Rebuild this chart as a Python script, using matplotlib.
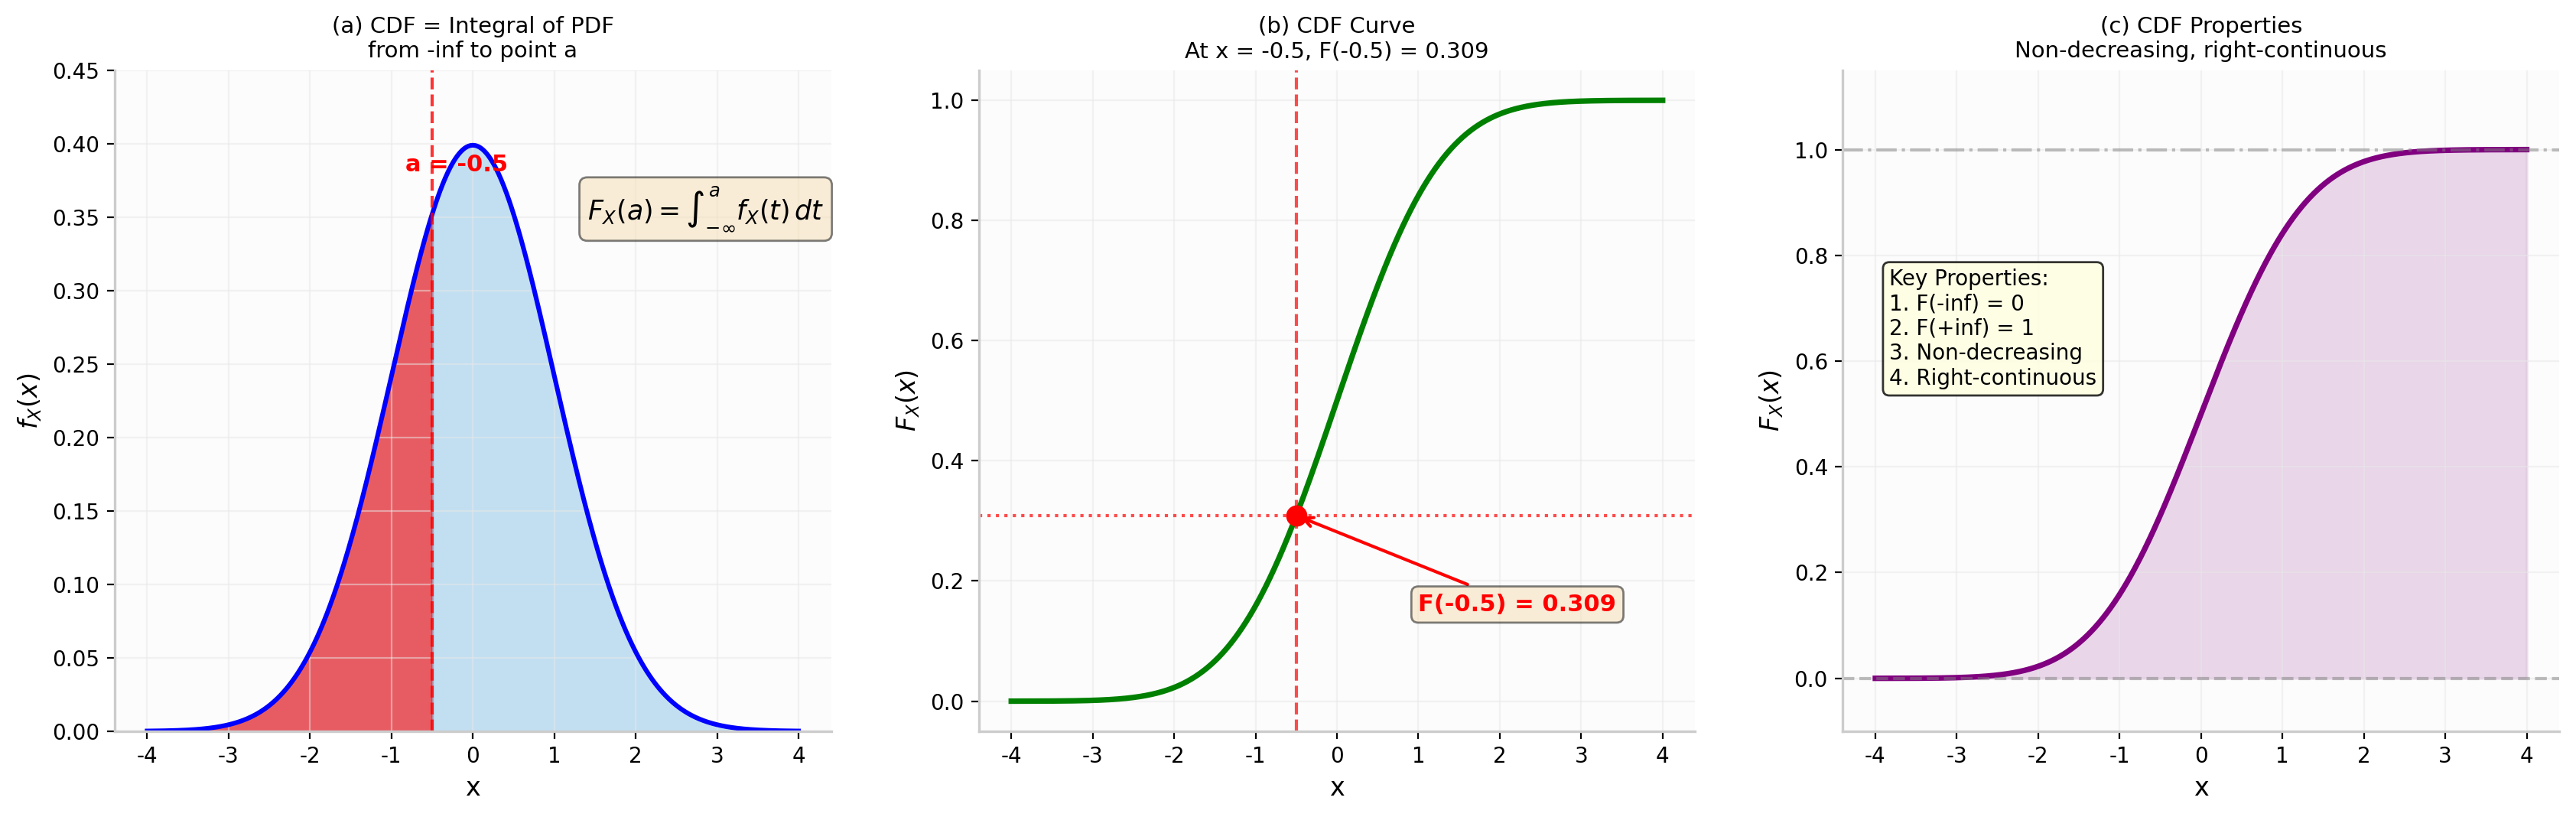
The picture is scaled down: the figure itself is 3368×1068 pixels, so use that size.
import numpy as np
import matplotlib.pyplot as plt
from math import erf

# standard normal, evaluated at point a
mu = 0.0
sigma = 1.0
x_lo, x_hi = -4, 4
a = -0.5
F_a = 0.309
xticks = [-4, -3, -2, -1, 0, 1, 2, 3, 4]
xtick_labels = ["-4", "-3", "-2", "-1", "0", "1", "2", "3", "4"]
pdf_yticks = [0.00, 0.05, 0.10, 0.15, 0.20, 0.25, 0.30, 0.35, 0.40, 0.45]
props = ["Key Properties:", "1. F(-inf) = 0", "2. F(+inf) = 1",
         "3. Non-decreasing", "4. Right-continuous"]

x = np.linspace(x_lo, x_hi, 1000)
pdf = np.exp(-0.5 * ((x - mu) / sigma) ** 2) / (sigma * np.sqrt(2 * np.pi))
cdf = np.array([0.5 * (1 + erf((v - mu) / (sigma * np.sqrt(2)))) for v in x])

plt.rcParams["axes.unicode_minus"] = False
plt.rcParams["font.size"] = 10

fig, axes = plt.subplots(1, 3, figsize=(16.84, 5.34), dpi=200)
fig.subplots_adjust(left=0.0445, right=0.9935, bottom=0.105, top=0.914, wspace=0.206)

for ax in axes:
    ax.set_facecolor("#fcfcfc")
    ax.grid(True, color="#e8e8e8", alpha=0.5, lw=0.8)
    for s in ["top", "right"]:
        ax.spines[s].set_visible(False)
    for s in ["left", "bottom"]:
        ax.spines[s].set_color("#cccccc")
        ax.spines[s].set_linewidth(1.2)
    ax.set_xticks(xticks)
    ax.set_xticklabels(xtick_labels)
    ax.set_xlabel("x", fontsize=12)

# (a) PDF with shaded area up to a
ax = axes[0]
left = x <= a
ax.fill_between(x[left], pdf[left], color="#e0262e", alpha=0.75)
ax.fill_between(x[~left], pdf[~left], color="#87c3e8", alpha=0.5)
ax.plot(x, pdf, color="blue", lw=2.2)
ax.axvline(a, color="red", ls="--", lw=1.5, alpha=0.8)
ax.text(a + 0.3, 0.378, f"a = {a}", color="red", fontsize=11,
        fontweight="bold", ha="center", va="bottom")
ax.text(0.99, 0.79, r"$F_X(a) = \int_{-\infty}^{a} f_X(t)\,dt$", transform=ax.transAxes,
        fontsize=12.5, ha="right", va="center",
        bbox=dict(boxstyle="round", facecolor="wheat", alpha=0.5, edgecolor="black"))
ax.set_ylim(0, 0.45)
ax.set_yticks(pdf_yticks)
ax.set_yticklabels([f"{v:.2f}" for v in pdf_yticks])
ax.set_ylabel("$f_X(x)$", fontsize=12)
ax.set_title("(a) CDF = Integral of PDF\nfrom -inf to point a", fontsize=10.5)

# (b) CDF curve with marked point
ax = axes[1]
ax.plot(x, cdf, color="green", lw=2.6)
ax.axvline(a, color="red", ls="--", lw=1.5, alpha=0.7)
ax.axhline(F_a, color="red", ls=":", lw=1.5, alpha=0.7)
ax.plot([a], [F_a], "o", color="red", markersize=9)
ax.annotate(f"F({a}) = {F_a:.3f}", xy=(a, F_a), xytext=(1, 0.15),
            fontsize=11, fontweight="bold", color="red",
            bbox=dict(boxstyle="round", facecolor="wheat", alpha=0.5, edgecolor="black"),
            arrowprops=dict(arrowstyle="->", color="red", lw=1.5))
ax.set_ylim(-0.05, 1.05)
ax.set_ylabel("$F_X(x)$", fontsize=12)
ax.set_title(f"(b) CDF Curve\nAt x = {a}, F({a}) = {F_a:.3f}", fontsize=10.5)

# (c) CDF properties
ax = axes[2]
ax.plot(x, cdf, color="purple", lw=2.6)
ax.fill_between(x, cdf, color="purple", alpha=0.15)
ax.axhline(0, color="gray", ls="--", lw=1.5, alpha=0.5)
ax.axhline(1, color="gray", ls="-.", lw=1.5, alpha=0.5)
ax.text(0.065, 0.7, "\n".join(props), transform=ax.transAxes, fontsize=10,
        va="top", ha="left",
        bbox=dict(boxstyle="round", facecolor="lightyellow", alpha=0.8, edgecolor="black"))
ax.set_ylim(-0.1, 1.15)
ax.set_ylabel("$F_X(x)$", fontsize=12)
ax.set_title("(c) CDF Properties\nNon-decreasing, right-continuous", fontsize=10.5)

plt.savefig("out.png", dpi=200)
